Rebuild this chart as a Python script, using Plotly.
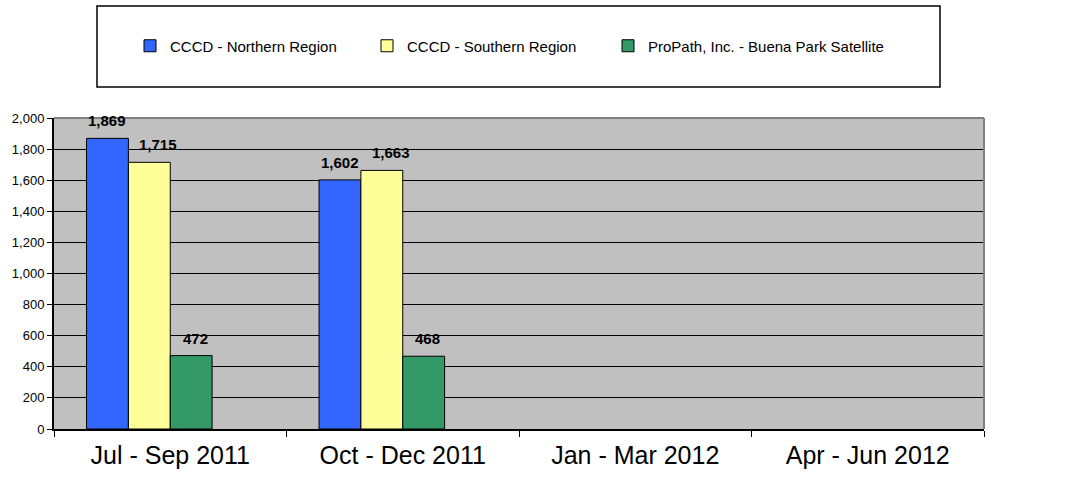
import plotly.graph_objects as go

categories = ["Jul - Sep 2011", "Oct - Dec 2011", "Jan - Mar 2012", "Apr - Jun 2012"]
series_names = ["CCCD - Northern Region", "CCCD - Southern Region", "ProPath, Inc. - Buena Park Satellite"]
northern = [1869, 1602, None, None]
southern = [1715, 1663, None, None]
propath = [472, 468, None, None]
y_ticks = list(range(0, 2001, 200))

series_values = [northern, southern, propath]
colors = ["#3366FF", "#FFFF99", "#339966"]
FONT = "Liberation Sans, Arial, sans-serif"

W, H = 1070, 492
plot_left, plot_right, plot_top, plot_bottom = 54, 984, 118, 429
ml = plot_left
mt = plot_top
plot_w = plot_right - plot_left
plot_h = plot_bottom - plot_top
mr = W - ml - plot_w
mb = H - mt - plot_h
cat_px = plot_w / len(categories)

bar_w = 0.18
offsets = [-0.36, -0.18, 0.0]
label_dx = [0, 9, 4]
legend_text_x = [170, 407, 648]  # px where legend text starts
legend_names = ["legend", "legend2", "legend3"]


def sx(px):
    return (px - plot_left) / plot_w


def sy(py):
    return 1 + (plot_top - py) / plot_h


fig = go.Figure()
for name, vals, col, off, lg in zip(series_names, series_values, colors, offsets, legend_names):
    fig.add_trace(go.Bar(
        name=name, x=categories, y=vals, width=bar_w, offset=off,
        marker=dict(color=col, line=dict(color="black", width=1)),
        hoverinfo="x+y", legend=lg,
    ))

annotations = []
for vals, off, dx in zip(series_values, offsets, label_dx):
    for cat, v in zip(categories, vals):
        if v is None:
            continue
        annotations.append(dict(
            x=cat, y=v, xref="x", yref="y", text=f"<b>{v:,}</b>", showarrow=False,
            xanchor="center", yanchor="bottom",
            xshift=(off + bar_w / 2) * cat_px + dx, yshift=7,
            font=dict(family=FONT, size=15, color="black"),
        ))

shapes = [
    dict(type="rect", xref="paper", yref="paper",
         x0=sx(97), x1=sx(940), y0=sy(87), y1=sy(6),
         line=dict(color="black", width=1.5), fillcolor="white", layer="below"),
    dict(type="line", xref="paper", yref="paper", x0=0, x1=1, y0=1, y1=1,
         line=dict(color="#808080", width=2), layer="above"),
    dict(type="line", xref="paper", yref="paper", x0=1, x1=1, y0=0, y1=1,
         line=dict(color="#808080", width=2), layer="above"),
]

legend_layouts = {}
for lg, tx in zip(legend_names, legend_text_x):
    legend_layouts[lg] = dict(
        orientation="h", x=sx(tx - 40), xanchor="left",
        y=sy(46), yanchor="middle",
        bgcolor="rgba(0,0,0,0)", borderwidth=0,
        font=dict(family=FONT, size=15, color="black"),
        itemwidth=30,
    )

fig.update_layout(
    width=W, height=H,
    margin=dict(l=ml, r=mr, t=mt, b=mb, pad=0),
    paper_bgcolor="white", plot_bgcolor="#C0C0C0",
    barmode="overlay",
    font=dict(family=FONT, color="black"),
    showlegend=True,
    xaxis=dict(
        type="category", categoryorder="array", categoryarray=categories,
        range=[-0.5, len(categories) - 0.5],
        tickson="boundaries", ticks="outside", ticklen=6, tickcolor="black",
        showline=True, linecolor="black", linewidth=2,
        showgrid=False, ticklabelstandoff=3,
        tickfont=dict(family=FONT, size=25, color="black"),
    ),
    yaxis=dict(
        range=[0, 2000], tickvals=y_ticks, tickformat=",",
        ticks="outside", ticklen=5, tickcolor="black",
        showline=True, linecolor="black", linewidth=2,
        showgrid=True, gridcolor="black", gridwidth=1,
        zeroline=False,
        tickfont=dict(family=FONT, size=13, color="black"),
    ),
    shapes=shapes,
    annotations=annotations,
    **legend_layouts,
)

fig.write_html(
    "out.html",
    config={"displayModeBar": False},
    post_script="document.body.style.margin='0';document.body.style.overflow='hidden';",
)
